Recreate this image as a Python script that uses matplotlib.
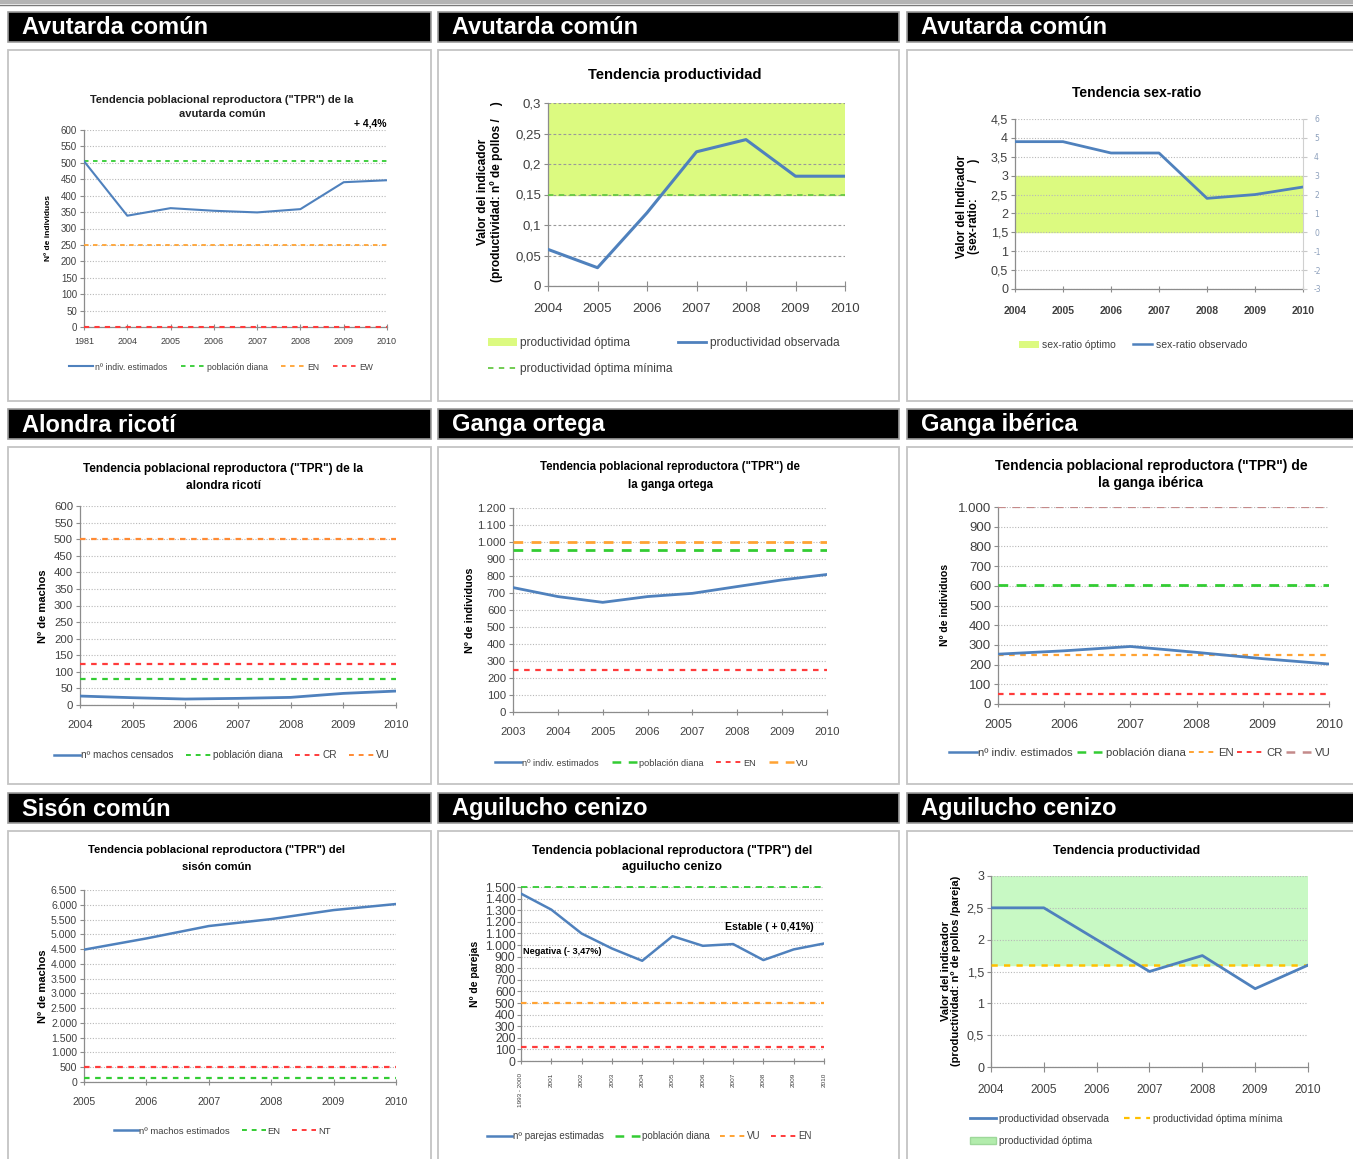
import matplotlib
matplotlib.use('Agg')
import matplotlib.pyplot as plt
import numpy as np
from matplotlib.patches import Rectangle, Patch
from matplotlib.lines import Line2D

# ---------------- data ----------------
avutarda_years = ['1981', '2004', '2005', '2006', '2007', '2008', '2009', '2010']
avutarda_indiv = [505, 339, 362, 354, 349, 359, 441, 447]
avutarda_diana = 505
avutarda_en = 250
avutarda_ew = 0
avutarda_trend = '+ 4,4%'

prod_years = [2004, 2005, 2006, 2007, 2008, 2009, 2010]
avutarda_prod = [0.06, 0.03, 0.12, 0.22, 0.24, 0.18, 0.18]
avutarda_prod_opt = (0.15, 0.30)

sex_years = [2004, 2005, 2006, 2007, 2008, 2009, 2010]
sex_ratio = [3.9, 3.9, 3.6, 3.6, 2.4, 2.5, 2.7]
sex_ratio_opt = (1.5, 3.0)

ricoti_years = [2004, 2005, 2006, 2007, 2008, 2009, 2010]
ricoti_machos = [27, 22, 18, 20, 23, 35, 42]
ricoti_diana = 77
ricoti_cr = 125
ricoti_vu = 500

ortega_years = [2003, 2004, 2005, 2006, 2007, 2008, 2009, 2010]
ortega_indiv = [732, 679, 645, 679, 698, 738, 777, 809]
ortega_diana = 955
ortega_en = 250
ortega_vu = 1000

iberica_years = [2005, 2006, 2007, 2008, 2009, 2010]
iberica_indiv = [253, 270, 292, 262, 230, 203]
iberica_diana = 605
iberica_en = 250
iberica_cr = 50
iberica_vu = 1000

sison_years = [2005, 2006, 2007, 2008, 2009, 2010]
sison_machos = [4480, 4860, 5280, 5515, 5820, 6025]
sison_en = 130
sison_nt = 500

aguilucho_cats = ['1993 - 2000', '2001', '2002', '2003', '2004', '2005',
                  '2006', '2007', '2008', '2009', '2010']
aguilucho_parejas = [1443, 1305, 1099, 970, 864, 1076, 993, 1008, 870, 962, 1013]
aguilucho_diana = 1500
aguilucho_vu = 500
aguilucho_en = 125
aguilucho_notes = ['Negativa (- 3,47%)', 'Estable ( + 0,41%)']

aguilucho_prod = [2.5, 2.5, 2.0, 1.5, 1.75, 1.23, 1.6]
aguilucho_prod_min = 1.6
aguilucho_prod_opt = (1.6, 3.0)

headers = [['Avutarda común', 'Avutarda común', 'Avutarda común'],
           ['Alondra ricotí', 'Ganga ortega', 'Ganga ibérica'],
           ['Sisón común', 'Aguilucho cenizo', 'Aguilucho cenizo']]

# ---------------- styling ----------------
W, H = 1353, 1159
fig = plt.figure(figsize=(W / 100, H / 100), dpi=100)
fig.patch.set_facecolor('white')

NARROW = ['Liberation Sans Narrow', 'Liberation Sans', 'DejaVu Sans']
WIDE = ['Liberation Sans', 'DejaVu Sans']

BLUE = '#4f81bd'
GREEN = '#33cc33'
ORANGE = '#ffa333'
RED = '#ff3b3b'
BROWN = '#c48a8a'
LIME = '#dcfa80'
MINT = '#c8f9c4'
GOLD = '#ffc000'
TXT = '#404040'


def fx(x):
    return x / W


def fy(y):
    return 1 - y / H


def box(x0, y0, x1, y1, **kw):
    fig.add_artist(Rectangle((fx(x0), fy(y1)), (x1 - x0) / W, (y1 - y0) / H,
                             transform=fig.transFigure, zorder=-5, **kw))


def axes_px(x0, y0, x1, y1):
    return fig.add_axes([fx(x0), fy(y1), (x1 - x0) / W, (y1 - y0) / H])


def es(v):
    if abs(v) >= 1000:
        return f'{int(round(v)):,}'.replace(',', '.')
    return ('%g' % v).replace('.', ',')


def ftext(x, y, s, size, family=NARROW, weight='normal', **kw):
    fig.text(fx(x), fy(y), s, fontsize=size, family=family, weight=weight, **kw)


def style(ax, yticks, xfs, yfs, grid='dotted', xtick_len=5, ytick_len=3, xpad=8):
    for side in ('top', 'right'):
        ax.spines[side].set_visible(False)
    for side in ('left', 'bottom'):
        ax.spines[side].set_color('#8c8c8c')
        ax.spines[side].set_linewidth(0.9)
    ax.set_facecolor('none')
    ax.set_yticks(yticks)
    ax.set_yticklabels([es(v) for v in yticks])
    ax.tick_params(axis='y', length=ytick_len, color='#8c8c8c', pad=2, labelsize=yfs,
                   labelcolor=TXT)
    ax.tick_params(axis='x', length=xtick_len, direction='inout', color='#8c8c8c', pad=xpad,
                   labelsize=xfs, labelcolor=TXT)
    for lab in ax.get_xticklabels() + ax.get_yticklabels():
        lab.set_family(NARROW)
    if grid == 'dotted':
        ax.yaxis.grid(True, linestyle=(0, (1, 1.5)), color='#b8b8b8', lw=0.8)
    else:
        ax.yaxis.grid(True, linestyle=(0, (2.5, 2)), color='#9a9a9a', lw=0.8)
    ax.set_axisbelow(True)


def legend(handles, labels, x, y, fs, ncol, loc='center', hl=2.6, cs=1.2, htp=0.3, ls=0.5):
    fig.legend(handles, labels, loc=loc, bbox_to_anchor=(fx(x), fy(y)), ncol=ncol,
               frameon=False, prop={'family': NARROW, 'size': fs}, handlelength=hl,
               handletextpad=htp, columnspacing=cs, labelspacing=ls,
               borderaxespad=0, borderpad=0, labelcolor=TXT)


def ln(color, ls='-', lw=1.6):
    return Line2D([], [], color=color, lw=lw, linestyle=ls)


DASH = (0, (2.5, 2.5))
LDASH = (0, (3.5, 3))

# ---------------- page frame ----------------
box(0, 0, W, 4, facecolor='#b4b4b4', edgecolor='none')
fig.add_artist(Line2D([0, 1], [fy(4.5), fy(4.5)], transform=fig.transFigure,
                      color='#7a7a7a', lw=1, zorder=-5))

cols = [(8, 431), (438, 899), (907, 1365)]
rows = [((12, 42), (50, 401)), ((409, 439), (447, 784)), ((793, 823), (831, 1170))]
for r, ((hy0, hy1), (py0, py1)) in enumerate(rows):
    for c, (x0, x1) in enumerate(cols):
        box(x0, hy0, x1, hy1, facecolor='black', edgecolor='#9c9c9c', lw=1.2)
        ftext(x0 + 14, (hy0 + hy1) / 2 + 1, headers[r][c], 17, family=WIDE,
              weight='bold', color='white', va='center', ha='left')
        box(x0, py0, x1, py1, facecolor='white', edgecolor='#c4c4c4', lw=1.3)

# ---------------- 1. Avutarda TPR ----------------
ax = axes_px(84, 130, 387, 327)
x = np.arange(len(avutarda_years))
ax.plot(x, avutarda_indiv, color=BLUE, lw=1.5, zorder=4)
ax.axhline(avutarda_diana, color=GREEN, lw=1.3, ls=DASH, zorder=3)
ax.axhline(avutarda_en, color=ORANGE, lw=1.3, ls=DASH, zorder=3)
ax.axhline(avutarda_ew, color=RED, lw=1.5, ls=DASH, zorder=3, clip_on=False)
ax.set_xlim(0, len(x) - 1)
ax.set_ylim(0, 600)
ax.set_xticks(x)
ax.set_xticklabels(avutarda_years)
style(ax, np.arange(0, 601, 50), 6.5, 7, xpad=5)
ftext(222, 100, 'Tendencia poblacional reproductora ("TPR") de la', 8, weight='bold',
      ha='center', va='center', color='#202020')
ftext(222, 114, 'avutarda común', 8, weight='bold', ha='center', va='center', color='#202020')
ftext(370, 123, avutarda_trend, 7.5, weight='bold', ha='center', va='center')
ftext(49, 228, 'Nº de individuos', 6, family=WIDE, weight='bold', rotation=90,
      ha='center', va='center')
legend([ln(BLUE, lw=1.5), ln(GREEN, DASH, 1.3), ln(ORANGE, DASH, 1.3), ln(RED, DASH, 1.3)],
       ['nº indiv. estimados', 'población diana', 'EN', 'EW'], 221, 367, 6.2, 4, hl=2.8, cs=1.5)

# ---------------- 2. Avutarda productividad ----------------
ax = axes_px(548, 103, 845, 286)
ax.axhspan(*avutarda_prod_opt, color=LIME, zorder=0)
ax.axhline(avutarda_prod_opt[0], color='#66c844', lw=1.3, ls=(0, (3, 3)), zorder=3)
ax.plot(prod_years, avutarda_prod, color=BLUE, lw=2.2, zorder=4)
ax.set_xlim(prod_years[0], prod_years[-1])
ax.set_ylim(0, 0.3)
ax.set_xticks(prod_years)
ax.set_xticklabels([str(v) for v in prod_years])
style(ax, np.round(np.arange(0, 0.301, 0.05), 2), 9.5, 9.5, grid='dashed', xtick_len=7,
      xpad=9)
ftext(675, 75, 'Tendencia productividad', 10.6, weight='bold', ha='center', va='center')
ftext(490, 192, 'Valor del indicador\n(productividad: nº de pollos /    )', 8.6, family=WIDE,
      weight='bold', rotation=90, ha='center', va='center', linespacing=1.05)
legend([Patch(facecolor=LIME, edgecolor='none'), ln('#66c844', (0, (3, 3)), 1.3), ln(BLUE, lw=2)],
       ['productividad óptima', 'productividad óptima mínima', 'productividad observada'],
       488, 337, 8.6, 2, loc='upper left', hl=2.4, cs=0.4, ls=1.2)

# ---------------- 3. Avutarda sex-ratio ----------------
ax = axes_px(1015, 119, 1303, 289)
ax.axhspan(*sex_ratio_opt, color=LIME, zorder=0)
ax.plot(sex_years, sex_ratio, color=BLUE, lw=2.0, zorder=4)
ax.set_xlim(sex_years[0], sex_years[-1])
ax.set_ylim(0, 4.5)
ax.set_xticks(sex_years)
ax.set_xticklabels([str(v) for v in sex_years])
style(ax, np.round(np.arange(0, 4.51, 0.5), 1), 7.5, 9, xpad=10)
for lab in ax.get_xticklabels():
    lab.set_weight('bold')
ax2 = ax.twinx()
ax2.set_ylim(-3, 6)
right_ticks = np.arange(-3, 7, 1)
ax2.set_yticks(right_ticks)
ax2.set_yticklabels([str(v) for v in right_ticks])
ax2.tick_params(axis='y', length=3, color='#c8c8c8', labelsize=5.5, labelcolor='#8da0bc', pad=5)
for side in ('top', 'left', 'bottom'):
    ax2.spines[side].set_visible(False)
ax2.spines['right'].set_color('#d0d0d0')
ftext(1137, 93, 'Tendencia sex-ratio', 10, weight='bold', ha='center', va='center')
ftext(968, 206, 'Valor del Indicador\n(sex-ratio:     /     )', 8.3, family=WIDE,
      weight='bold', rotation=90, ha='center', va='center', linespacing=1.0)
legend([Patch(facecolor=LIME, edgecolor='none'), ln(BLUE, lw=1.8)],
       ['sex-ratio óptimo', 'sex-ratio observado'], 1133, 345, 7.5, 2, hl=1.9, cs=1.6)

# ---------------- 4. Alondra ricotí ----------------
ax = axes_px(80, 506, 396, 705)
ax.plot(ricoti_years, ricoti_machos, color=BLUE, lw=2.0, zorder=4)
ax.axhline(ricoti_diana, color=GREEN, lw=1.6, ls=DASH, zorder=3)
ax.axhline(ricoti_cr, color=RED, lw=1.6, ls=DASH, zorder=3)
ax.axhline(ricoti_vu, color='#ff8a33', lw=1.6, ls=DASH, zorder=3)
ax.set_xlim(ricoti_years[0], ricoti_years[-1])
ax.set_ylim(0, 600)
ax.set_xticks(ricoti_years)
ax.set_xticklabels([str(v) for v in ricoti_years])
style(ax, np.arange(0, 601, 50), 8.2, 8.2)
ftext(223, 469, 'Tendencia poblacional reproductora ("TPR") de la', 8.5, weight='bold',
      ha='center', va='center')
ftext(223, 486, 'alondra ricotí', 8.5, weight='bold', ha='center', va='center')
ftext(43, 606, 'Nº de machos', 8, family=WIDE, weight='bold', rotation=90,
      ha='center', va='center')
legend([ln(BLUE, lw=1.8), ln(GREEN, DASH, 1.4), ln(RED, DASH, 1.4), ln('#ff8a33', DASH, 1.4)],
       ['nº machos censados', 'población diana', 'CR', 'VU'], 222, 755, 7.2, 4, hl=2.6, cs=1.2,
       htp=0.15)

# ---------------- 5. Ganga ortega ----------------
ax = axes_px(513, 508, 827, 712)
ax.plot(ortega_years, ortega_indiv, color=BLUE, lw=2.0, zorder=4)
ax.axhline(ortega_vu, color=ORANGE, lw=2.0, ls=LDASH, zorder=3)
ax.axhline(ortega_diana, color=GREEN, lw=2.0, ls=LDASH, zorder=3)
ax.axhline(ortega_en, color=RED, lw=1.6, ls=DASH, zorder=3)
ax.set_xlim(ortega_years[0], ortega_years[-1])
ax.set_ylim(0, 1200)
ax.set_xticks(ortega_years)
ax.set_xticklabels([str(v) for v in ortega_years])
style(ax, np.arange(0, 1201, 100), 8.2, 8.2)
ftext(670, 467, 'Tendencia poblacional reproductora ("TPR") de', 8.3, weight='bold',
      ha='center', va='center')
ftext(670, 485, 'la ganga ortega', 8.3, weight='bold', ha='center', va='center')
ftext(470, 610, 'Nº de individuos', 7.8, family=WIDE, weight='bold', rotation=90,
      ha='center', va='center')
legend([ln(BLUE, lw=1.8), ln(GREEN, LDASH, 1.8), ln(RED, DASH, 1.4), ln(ORANGE, LDASH, 1.8)],
       ['nº indiv. estimados', 'población diana', 'EN', 'VU'], 652, 763, 6.6, 4, hl=2.8, cs=1.4,
       htp=0.15)

# ---------------- 6. Ganga ibérica ----------------
ax = axes_px(998, 507, 1329, 704)
ax.axhline(iberica_vu, color=BROWN, lw=1.6, ls=LDASH, zorder=3)
ax.axhline(iberica_diana, color=GREEN, lw=2.0, ls=LDASH, zorder=3)
ax.axhline(iberica_en, color=ORANGE, lw=1.6, ls=DASH, zorder=3)
ax.axhline(iberica_cr, color=RED, lw=1.6, ls=DASH, zorder=3)
ax.plot(iberica_years, iberica_indiv, color=BLUE, lw=2.0, zorder=4)
ax.set_xlim(iberica_years[0], iberica_years[-1])
ax.set_ylim(0, 1000)
ax.set_xticks(iberica_years)
ax.set_xticklabels([str(v) for v in iberica_years])
style(ax, np.arange(0, 1001, 100), 9, 9.5)
ftext(1151, 466, 'Tendencia poblacional reproductora ("TPR") de', 10, weight='bold',
      ha='center', va='center')
ftext(1151, 483, 'la ganga ibérica', 10, weight='bold', ha='center', va='center')
ftext(945, 605, 'Nº de individuos', 7.6, family=WIDE, weight='bold', rotation=90,
      ha='center', va='center')
legend([ln(BLUE, lw=1.8), ln(GREEN, LDASH, 1.8), ln(ORANGE, DASH, 1.4), ln(RED, DASH, 1.4),
        ln(BROWN, LDASH, 1.8)],
       ['nº indiv. estimados', 'población diana', 'EN', 'CR', 'VU'], 1140, 753, 8.2, 5,
       hl=2.4, cs=0.3, htp=0.15)

# ---------------- 7. Sisón común ----------------
ax = axes_px(84, 890, 396, 1082)
ax.plot(sison_years, sison_machos, color=BLUE, lw=1.8, zorder=4)
ax.axhline(sison_nt, color=RED, lw=1.6, ls=DASH, zorder=3)
ax.axhline(sison_en, color=GREEN, lw=1.6, ls=DASH, zorder=3)
ax.set_xlim(sison_years[0], sison_years[-1])
ax.set_ylim(0, 6500)
ax.set_xticks(sison_years)
ax.set_xticklabels([str(v) for v in sison_years])
style(ax, np.arange(0, 6501, 500), 7.6, 7.6)
ftext(217, 850, 'Tendencia poblacional reproductora ("TPR") del', 8.1, weight='bold',
      ha='center', va='center')
ftext(217, 867, 'sisón común', 8.1, weight='bold', ha='center', va='center')
ftext(43, 986, 'Nº de machos', 8, family=WIDE, weight='bold', rotation=90,
      ha='center', va='center')
legend([ln(BLUE, lw=1.8), ln(GREEN, DASH, 1.4), ln(RED, DASH, 1.4)],
       ['nº machos estimados', 'EN', 'NT'], 222, 1131, 6.8, 3, hl=2.6, cs=1.2, htp=0.15)

# ---------------- 8. Aguilucho cenizo TPR ----------------
ax = axes_px(521, 887, 824, 1061)
xa = np.arange(len(aguilucho_cats))
ax.axhline(aguilucho_diana, color=GREEN, lw=1.3, ls=LDASH, zorder=3, clip_on=False)
ax.axhline(aguilucho_vu, color=ORANGE, lw=1.6, ls=DASH, zorder=3)
ax.axhline(aguilucho_en, color=RED, lw=1.6, ls=DASH, zorder=3)
ax.plot(xa, aguilucho_parejas, color=BLUE, lw=1.8, zorder=4)
ax.set_xlim(0, len(xa) - 1)
ax.set_ylim(0, 1500)
ax.set_xticks(xa)
ax.set_xticklabels(aguilucho_cats, rotation=90, va='top', ha='center')
style(ax, np.arange(0, 1501, 100), 4.6, 8.8, xpad=6)
ax.tick_params(axis='y', pad=1)
ftext(672, 851, 'Tendencia poblacional reproductora ("TPR") del', 8.8, weight='bold',
      ha='center', va='center')
ftext(672, 867, 'aguilucho cenizo', 8.8, weight='bold', ha='center', va='center')
ftext(523, 951, aguilucho_notes[0], 6.6, weight='bold', ha='left', va='center')
ftext(725, 927, aguilucho_notes[1], 7.6, weight='bold', ha='left', va='center')
ftext(475, 974, 'Nº de parejas', 7.6, family=WIDE, weight='bold', rotation=90,
      ha='center', va='center')
legend([ln(BLUE, lw=1.8), ln(GREEN, LDASH, 1.8), ln(ORANGE, DASH, 1.4), ln(RED, DASH, 1.4)],
       ['nº parejas estimadas', 'población diana', 'VU', 'EN'], 649, 1136, 7, 4,
       hl=2.6, cs=1.1, htp=0.15)

# ---------------- 9. Aguilucho cenizo productividad ----------------
ax = axes_px(991, 876, 1308, 1067)
ax.axhspan(*aguilucho_prod_opt, color=MINT, zorder=0)
ax.axhline(aguilucho_prod_min, color=GOLD, lw=1.8, ls=DASH, zorder=3)
ax.plot(prod_years, aguilucho_prod, color=BLUE, lw=2.0, zorder=4)
ax.set_xlim(prod_years[0], prod_years[-1])
ax.set_ylim(0, 3)
ax.set_xticks(prod_years)
ax.set_xticklabels([str(v) for v in prod_years])
style(ax, np.round(np.arange(0, 3.01, 0.5), 1), 8.6, 9, xtick_len=7, xpad=9)
ftext(1127, 851, 'Tendencia productividad', 9, weight='bold', ha='center', va='center')
ftext(951, 971, 'Valor del indicador\n(productividad: nº de pollos /pareja)', 8, family=WIDE,
      weight='bold', rotation=90, ha='center', va='center', linespacing=1.05)
legend([ln(BLUE, lw=2), Patch(facecolor='#b2ecac', edgecolor='#9ed89a'), ln(GOLD, DASH, 1.6)],
       ['productividad observada', 'productividad óptima', 'productividad óptima mínima'],
       970, 1114, 7.3, 2, loc='upper left', hl=2.6, cs=1.4, ls=1.2)

fig.savefig('out.png', dpi=100, facecolor='white')
